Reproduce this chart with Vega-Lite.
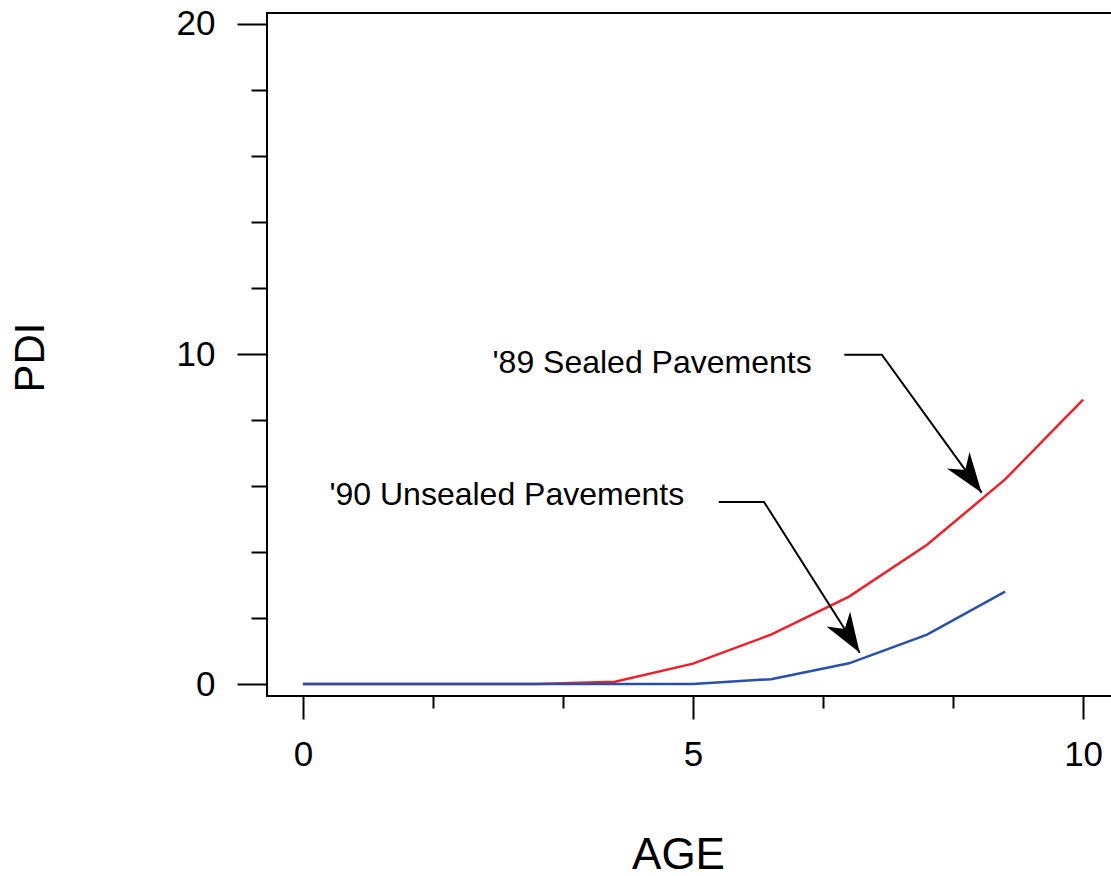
{
  "$schema": "https://vega.github.io/schema/vega-lite/v6.json",
  "width": 852,
  "height": 683,
  "autosize": {"type": "none"},
  "padding": {"left": 267, "top": 13, "right": 0, "bottom": 180},
  "background": "white",
  "config": {
    "font": "Liberation Sans",
    "view": {"stroke": "black", "strokeWidth": 2}
  },
  "datasets": {
    "series": [
      {"series": "'89 Sealed", "age": 0, "pdi": 0},
      {"series": "'89 Sealed", "age": 1, "pdi": 0},
      {"series": "'89 Sealed", "age": 2, "pdi": 0},
      {"series": "'89 Sealed", "age": 3, "pdi": 0},
      {"series": "'89 Sealed", "age": 4, "pdi": 0.07},
      {"series": "'89 Sealed", "age": 5, "pdi": 0.62},
      {"series": "'89 Sealed", "age": 6, "pdi": 1.5},
      {"series": "'89 Sealed", "age": 7, "pdi": 2.65},
      {"series": "'89 Sealed", "age": 8, "pdi": 4.22},
      {"series": "'89 Sealed", "age": 9, "pdi": 6.2},
      {"series": "'89 Sealed", "age": 10, "pdi": 8.62},
      {"series": "'90 Unsealed", "age": 0, "pdi": 0},
      {"series": "'90 Unsealed", "age": 1, "pdi": 0},
      {"series": "'90 Unsealed", "age": 2, "pdi": 0},
      {"series": "'90 Unsealed", "age": 3, "pdi": 0},
      {"series": "'90 Unsealed", "age": 4, "pdi": 0},
      {"series": "'90 Unsealed", "age": 5, "pdi": 0},
      {"series": "'90 Unsealed", "age": 6, "pdi": 0.15},
      {"series": "'90 Unsealed", "age": 7, "pdi": 0.63},
      {"series": "'90 Unsealed", "age": 8, "pdi": 1.5},
      {"series": "'90 Unsealed", "age": 9, "pdi": 2.8}
    ],
    "leaders": [
      {"arrow": "a89", "seq": 1, "age": 6.94, "pdi": 9.98},
      {"arrow": "a89", "seq": 2, "age": 7.42, "pdi": 9.98},
      {"arrow": "a89", "seq": 3, "age": 8.70, "pdi": 5.80},
      {"arrow": "a90", "seq": 1, "age": 5.33, "pdi": 5.52},
      {"arrow": "a90", "seq": 2, "age": 5.91, "pdi": 5.52},
      {"arrow": "a90", "seq": 3, "age": 7.137, "pdi": 0.95}
    ],
    "labels": [
      {"label": "'89 Sealed Pavements", "age": 2.43, "pdi": 9.43},
      {"label": "'90 Unsealed Pavements", "age": 0.34, "pdi": 5.43}
    ]
  },
  "encoding": {
    "x": {
      "field": "age",
      "type": "quantitative",
      "scale": {"domain": [-0.46, 10.46], "nice": false, "zero": false},
      "axis": {
        "values": [0, 1.6666666666666667, 3.3333333333333335, 5, 6.666666666666667, 8.333333333333334, 10],
        "tickSize": {"condition": {"test": "datum.value % 5 === 0", "value": 23}, "value": 12},
        "tickWidth": 2,
        "tickColor": "black",
        "domain": false,
        "grid": false,
        "labelExpr": "datum.value % 5 === 0 ? format(datum.value, 'd') : ''",
        "labelFontSize": 35,
        "labelColor": "black",
        "labelPadding": 18,
        "labelFlush": false,
        "labelOverlap": false,
        "title": "AGE",
        "titleFontSize": 44,
        "titleFontWeight": "normal",
        "titleColor": "black",
        "titleX": 411,
        "titleY": 172,
        "titleAlign": "center",
        "titleAnchor": null,
        "titleBaseline": "alphabetic"
      }
    },
    "y": {
      "field": "pdi",
      "type": "quantitative",
      "scale": {"domain": [-0.36, 20.33], "nice": false, "zero": false},
      "axis": {
        "values": [0, 2, 4, 6, 8, 10, 12, 14, 16, 18, 20],
        "tickSize": {"condition": {"test": "datum.value % 10 === 0", "value": 30}, "value": 16},
        "tickWidth": 2,
        "tickColor": "black",
        "domain": false,
        "grid": false,
        "labelExpr": "datum.value % 10 === 0 ? datum.label : ''",
        "labelFontSize": 35,
        "labelColor": "black",
        "labelPadding": 22,
        "labelFlush": false,
        "labelOverlap": false,
        "title": "PDI",
        "titleFontSize": 42,
        "titleFontWeight": "normal",
        "titleColor": "black",
        "titleAngle": -90,
        "titleX": -224,
        "titleY": 344,
        "titleAlign": "center",
        "titleAnchor": null,
        "titleBaseline": "alphabetic"
      }
    }
  },
  "layer": [
    {
      "data": {"name": "series"},
      "mark": {"type": "line", "strokeWidth": 2.5},
      "encoding": {
        "color": {
          "field": "series",
          "type": "nominal",
          "scale": {"domain": ["'89 Sealed", "'90 Unsealed"], "range": ["#f0202a", "#2a50a8"]},
          "legend": null
        }
      }
    },
    {
      "data": {"name": "leaders"},
      "mark": {"type": "line", "color": "black", "strokeWidth": 2},
      "encoding": {
        "detail": {"field": "arrow", "type": "nominal"},
        "order": {"field": "seq", "type": "quantitative"}
      }
    },
    {
      "data": {"name": "leaders"},
      "transform": [{"filter": "datum.arrow === 'a89' && datum.seq === 3"}],
      "mark": {"type": "point", "shape": "M0,0L-0.7,-2L0,-1.4L0.7,-2Z", "size": 1600, "filled": true, "color": "black", "opacity": 1, "angle": 324}
    },
    {
      "data": {"name": "leaders"},
      "transform": [{"filter": "datum.arrow === 'a90' && datum.seq === 3"}],
      "mark": {"type": "point", "shape": "M0,0L-0.7,-2L0,-1.4L0.7,-2Z", "size": 1600, "filled": true, "color": "black", "opacity": 1, "angle": 327.6}
    },
    {
      "data": {"name": "labels"},
      "mark": {"type": "text", "align": "left", "baseline": "alphabetic", "fontSize": 32, "color": "black"},
      "encoding": {"text": {"field": "label", "type": "nominal"}}
    }
  ]
}
